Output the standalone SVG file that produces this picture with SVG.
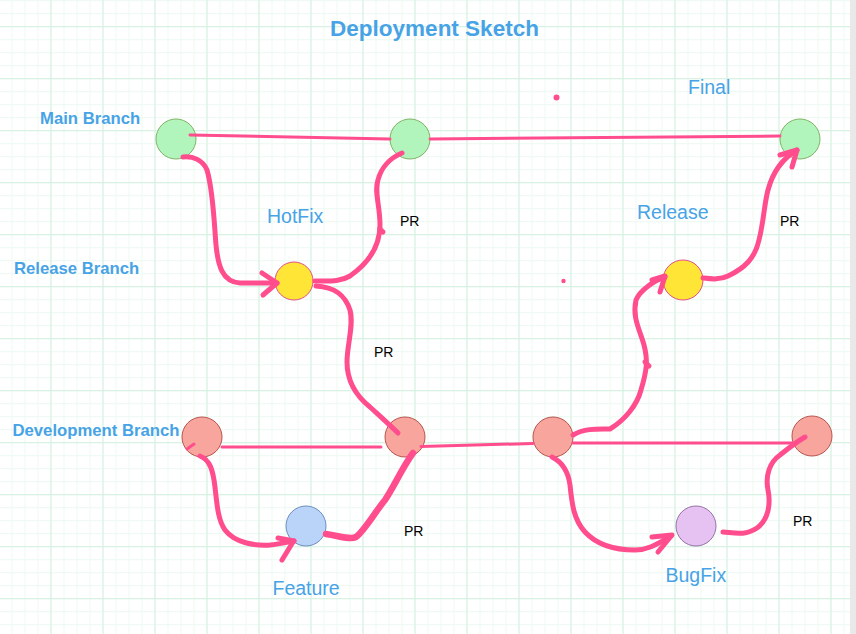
<svg xmlns="http://www.w3.org/2000/svg" width="856" height="634" viewBox="0 0 856 634">
<defs>
<pattern id="minor" width="13" height="13" patternUnits="userSpaceOnUse" x="-1.5" y="0.2">
<path d="M0.5,0 V13 M0,0.5 H13" fill="none" stroke="#ecf9f1" stroke-width="1"/>
</pattern>
<pattern id="major" width="52" height="52" patternUnits="userSpaceOnUse" x="-1.5" y="26.2">
<path d="M0.5,0 V52 M0,0.5 H52" fill="none" stroke="#d3f0df" stroke-width="1"/>
</pattern>
<style>
.edge{fill:none;stroke:#ff4d8d;stroke-width:3;stroke-linecap:round}
.curve{fill:none;stroke:#ff4d8d;stroke-width:5;stroke-linecap:round;stroke-linejoin:round}
.thick{stroke-width:6.5}
.green{fill:#b1f5bd;stroke:#82b366;stroke-width:1}
.yellow{fill:#ffe535;stroke:#e0508a;stroke-width:1}
.red{fill:#f8a69d;stroke:#b85450;stroke-width:1}
.blue{fill:#bad3f9;stroke:#6c8ebf;stroke-width:1}
.purple{fill:#e5c2f1;stroke:#9673a6;stroke-width:1}
.branch{font-family:"Liberation Sans",Arial,sans-serif;font-weight:bold;font-size:16.7px;fill:#47a3e6}
.lbl{font-family:"Liberation Sans",Arial,sans-serif;font-size:19.5px;fill:#47a3e6}
.pr{font-family:"Liberation Sans",Arial,sans-serif;font-size:14px;fill:#000}
.title{font-family:"Liberation Sans",Arial,sans-serif;font-weight:bold;font-size:22.5px;fill:#47a3e6}
</style>
</defs>
<rect x="0" y="0" width="856" height="634" fill="#ffffff"/>
<rect x="0" y="0" width="850" height="634" fill="url(#minor)"/>
<rect x="0" y="0" width="850" height="634" fill="url(#major)"/>
<rect x="850" y="0" width="6" height="634" fill="#e9e9e9"/>

<g id="labels">
<text class="title" x="434.5" y="36" text-anchor="middle">Deployment Sketch</text>
<text class="branch" x="40" y="123.5">Main Branch</text>
<text class="branch" x="14" y="273.5">Release Branch</text>
<text class="branch" x="12.5" y="436">Development Branch</text>
<text class="lbl" x="267" y="222.5">HotFix</text>
<text class="lbl" x="688" y="94">Final</text>
<text class="lbl" x="637" y="218.5">Release</text>
<text class="lbl" x="272.5" y="594.5">Feature</text>
<text class="lbl" x="665.5" y="582">BugFix</text>
<text class="pr" x="400" y="226">PR</text>
<text class="pr" x="374" y="357">PR</text>
<text class="pr" x="404" y="536">PR</text>
<text class="pr" x="780" y="226">PR</text>
<text class="pr" x="793" y="526">PR</text>
</g>

<g id="dots">
<circle cx="556.5" cy="97.5" r="3" fill="#ff4d8d"/>
<circle cx="563.5" cy="281" r="2.2" fill="#ff4d8d"/>
</g>

<g id="main1"><circle class="green" cx="176" cy="139" r="20"/></g>
<g id="main2"><circle class="green" cx="410" cy="139" r="20"/></g>
<g id="final"><circle class="green" cx="800" cy="139" r="20"/></g>
<g id="hotfix"><circle class="yellow" cx="294" cy="281" r="19"/></g>
<g id="release"><circle class="yellow" cx="683" cy="280" r="20"/></g>
<g id="dev1"><circle class="red" cx="202" cy="437" r="20"/></g>
<g id="dev2"><circle class="red" cx="405" cy="437" r="20"/></g>
<g id="dev3"><circle class="red" cx="553" cy="437" r="20"/></g>
<g id="dev4"><circle class="red" cx="812" cy="436" r="20"/></g>
<g id="feature"><circle class="blue" cx="306" cy="526" r="20"/></g>
<g id="bugfix"><circle class="purple" cx="696" cy="526" r="20"/></g>

<g id="connectors">
<path class="edge" d="M190,135 L390,139"/>
<path class="edge" d="M430,139 L780,136"/>
<path class="edge" d="M222,447 L381,447"/>
<path class="edge" d="M421,446.5 L533,443.5"/>
<path class="edge" d="M573,443 L792,443"/>
<path class="edge" d="M187,449 L194,444"/>

<path class="curve" d="M183,157 C193,156 203,160 207,170 C213,190 214,220 216,245 C218,265 222,282 240,283 L277,283"/>
<path class="curve" d="M262,273 L277,283 L263,295"/>

<path class="curve" d="M315,281 C330,281 340,282 350,276 C370,262 380,245 380,225 C380,205 374,192 378,180 C381,168 390,158 402,153"/>
<path class="curve" d="M380,229 L383,232"/>

<path class="curve" d="M316,286 C335,287 345,295 350,310 C354,325 347,345 347,362 C347,380 355,395 370,407 C382,418 392,427 398,433"/>

<path class="curve" d="M200,456 C210,460 213,470 215,487 C217,505 218,520 225,530 C235,543 255,546 270,545 C280,544 288,542 294,541"/>
<path class="curve" d="M278,538 L294,541 M293,542 L282,560"/>

<path class="curve thick" d="M326,534 C340,536 350,540 356,537 C365,530 375,512 385,500 C395,485 402,468 413,453"/>

<path class="curve" d="M573,435 C585,428 598,429 610,429 C625,420 637,405 641,390 C647,370 648,360 644,345 C640,330 632,318 636,300 C640,290 655,280 665,277"/>
<path class="curve" d="M645,362 L649,366"/>
<path class="curve" d="M652,280 L665,276 L660,292"/>

<path class="curve" d="M703,278 C712,279 720,280 728,276 C745,268 755,258 759,240 C764,220 764,205 768,190 C772,175 780,160 797,150"/>
<path class="curve" d="M780,155 L797,150 L792,167"/>

<path class="curve" d="M552,457 C562,462 568,470 570,485 C572,505 574,520 585,532 C598,546 615,550 635,550 C650,550 660,542 671,536"/>
<path class="curve" d="M652,537 L672,535 L658,552"/>

<path class="curve" d="M723,532 C735,533 745,536 757,528 C768,520 771,505 768,490 C765,475 770,462 780,455 C790,447 798,441 805,437"/>
</g>
</svg>
